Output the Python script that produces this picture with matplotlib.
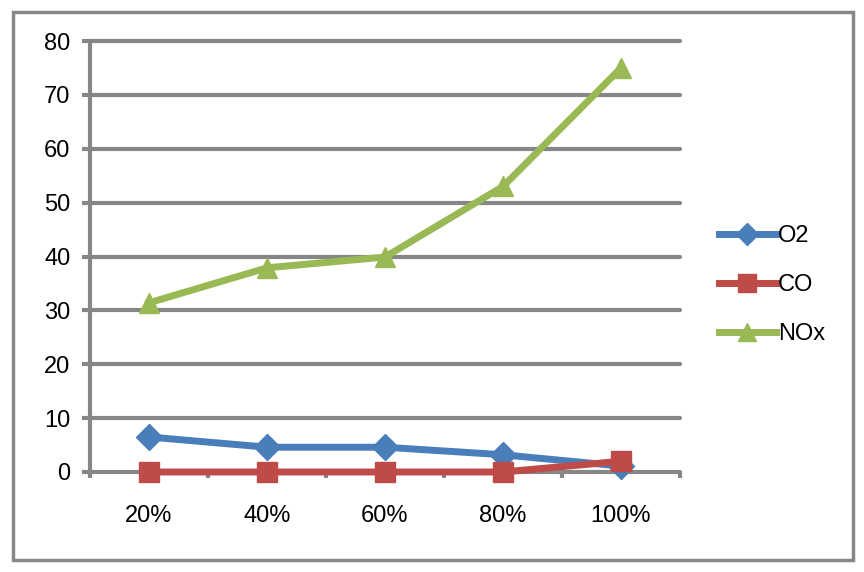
import matplotlib
matplotlib.use("Agg")
import matplotlib.pyplot as plt
from matplotlib.patches import Rectangle
import numpy as np

categories = ["20%", "40%", "60%", "80%", "100%"]
o2 = [6.5, 4.6, 4.6, 3.2, 1.1]
co = [0, 0, 0, 0, 2.0]
nox = [31.4, 37.9, 39.9, 53.0, 75.0]
yticks = [0, 10, 20, 30, 40, 50, 60, 70, 80]

plt.rcParams['font.family'] = ['Liberation Sans', 'DejaVu Sans']
fig = plt.figure(figsize=(8.64, 5.72), dpi=100)
ax = fig.add_axes([90/864, 100/572, 590/864, 431/572])

x = np.arange(len(categories))
grid_c = "#868686"
ax.plot(x, o2, color="#4a7ebb", lw=5, marker="D", ms=13, label="O2", zorder=3, clip_on=False)
ax.plot(x, co, color="#be4b48", lw=5, marker="s", ms=15, label="CO", zorder=3, clip_on=False)
ax.plot(x, nox, color="#98b954", lw=5, marker="^", ms=15, label="NOx", zorder=3, clip_on=False)

ax.set_xlim(-0.5, len(categories) - 0.5)
ax.set_ylim(0, 80)
ax.set_yticks(yticks)
ax.set_xticks(x)
ax.set_xticklabels(categories)
ax.set_xticks(np.arange(len(categories) + 1) - 0.5, minor=True)
for yv in yticks:
    ax.axhline(yv, color=grid_c, lw=3, zorder=1, solid_capstyle="round", clip_on=False)
for s in ["top", "right", "bottom"]:
    ax.spines[s].set_visible(False)
ax.spines["left"].set_color(grid_c)
ax.spines["left"].set_linewidth(3)
ax.tick_params(axis="y", length=6, width=3, color=grid_c, labelsize=17, pad=8)
ax.tick_params(axis="x", which="major", length=0, labelsize=17, pad=24)
ax.tick_params(axis="x", which="minor", length=4, width=3, color=grid_c)

leg = ax.legend(loc="center left", bbox_to_anchor=(1.03, 0.434), frameon=False,
                fontsize=17, handlelength=2.4, handletextpad=0.1, labelspacing=1.15,
                markerscale=0.85)

fig.patches.append(Rectangle((13/864, 12/572), 840/864, 548/572, transform=fig.transFigure,
                             fill=False, edgecolor="#888888", lw=2.5))
fig.savefig("out.png", dpi=100)
